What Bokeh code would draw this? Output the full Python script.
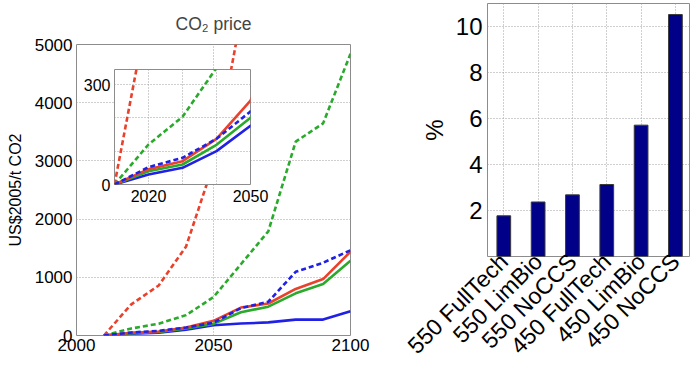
import math
from bokeh.plotting import figure
from bokeh.models import FixedTicker, GridBox, Row, Range1d
from bokeh.embed import file_html
from bokeh.resources import INLINE

# ---------------- data ----------------
years = [2010, 2020, 2030, 2040, 2050, 2060, 2070, 2080, 2090, 2100]
red_solid = [0, 46, 70, 137, 252, 480, 550, 800, 970, 1440]
green_solid = [0, 40, 60, 119, 200, 400, 495, 725, 885, 1285]
blue_solid = [0, 30, 50, 100, 176, 205, 225, 273, 273, 415]
blue_dashed = [0, 52, 80, 137, 219, 470, 580, 1095, 1250, 1465]
green_dashed = [0, 120, 203, 350, 660, 1224, 1790, 3330, 3645, 4840]
red_dashed_years = [2010, 2020, 2030, 2040, 2050, 2060]
red_dashed = [0, 535, 860, 1530, 2950, 5470]

main_x_ticks = [2000, 2050, 2100]
main_y_ticks = [0, 1000, 2000, 3000, 4000, 5000]
inset_x_ticks = [2020, 2030, 2040, 2050]
inset_x_labels = {2020: "2020", 2030: "", 2040: "", 2050: "2050"}
inset_y_ticks = [0, 100, 200, 300]
inset_y_labels = {0: "0", 100: "", 200: "", 300: "300"}

scenarios = ["550 FullTech", "550 LimBio", "550 NoCCS", "450 FullTech", "450 LimBio", "450 NoCCS"]
loss_pct = [1.77, 2.37, 2.68, 3.13, 5.71, 10.52]
bar_y_ticks = [2, 4, 6, 8, 10]

# ---------------- style ----------------
FONT = "Liberation Sans"
RED = "#e8412c"
GREEN = "#2aaa2a"
BLUE = "#2020e6"
FRAME = "#8c8c8c"
GRID = "#a0a0a0"
LW = 2.6
DASH = "5 3"

series = [
    (years, blue_solid, BLUE, "solid"),
    (years, green_solid, GREEN, "solid"),
    (years, red_solid, RED, "solid"),
    (years, green_dashed, GREEN, DASH),
    (red_dashed_years, red_dashed, RED, DASH),
    (years, blue_dashed, BLUE, DASH),
]


def style(p, font_size):
    p.outline_line_color = FRAME
    p.outline_line_width = 1
    p.background_fill_color = "white"
    for ax in p.axis:
        ax.axis_line_color = None
        ax.major_tick_in = 0
        ax.major_tick_out = 0
        ax.minor_tick_line_color = None
        ax.major_label_text_font = FONT
        ax.major_label_text_font_size = font_size
        ax.major_label_text_color = "black"
        ax.axis_label_text_font = FONT
        ax.axis_label_text_font_style = "normal"
        ax.axis_label_text_color = "black"
    for g in p.grid:
        g.grid_line_color = GRID
        g.grid_line_dash = "1 2"
        g.grid_line_width = 1


# ---------------- main line chart ----------------
main = figure(width=370, height=360, x_range=Range1d(2000, 2100), y_range=Range1d(0, 5000),
              output_backend="svg", toolbar_location=None,
              min_border_left=76, min_border_right=20, min_border_top=42, min_border_bottom=25)
main.title.text = "CO\u2082 price"
main.title.align = "center"
main.title.text_font = FONT
main.title.text_font_size = "17.5px"
main.title.text_font_style = "normal"
main.title.standoff = 22
for xs, ys, c, d in series:
    main.line(xs, ys, line_color=c, line_width=LW, line_dash=d)
style(main, "17px")
main.xaxis.ticker = FixedTicker(ticks=main_x_ticks)
main.yaxis.ticker = FixedTicker(ticks=main_y_ticks)
main.xaxis.major_label_standoff = 3
main.yaxis.major_label_standoff = 4
main.yaxis.axis_label = "US$2005/t CO2"
main.yaxis.axis_label_text_font_size = "16px"
main.yaxis.axis_label_standoff = 8

# ---------------- inset ----------------
inset = figure(width=190, height=141, x_range=Range1d(2010, 2050), y_range=Range1d(0, 345),
               output_backend="svg", toolbar_location=None,
               min_border_left=32, min_border_right=20, min_border_top=2, min_border_bottom=24)
inset.border_fill_alpha = 0
for xs, ys, c, d in series:
    inset.line(xs, ys, line_color=c, line_width=LW, line_dash=d)
style(inset, "16px")
inset.xaxis.ticker = FixedTicker(ticks=inset_x_ticks)
inset.xaxis.major_label_overrides = inset_x_labels
inset.yaxis.ticker = FixedTicker(ticks=inset_y_ticks)
inset.yaxis.major_label_overrides = inset_y_labels
inset.xaxis.major_label_standoff = 5
inset.yaxis.major_label_standoff = 4

left = GridBox(children=[(main, 0, 0, 3, 3), (inset, 1, 1, 1, 1)],
               rows=["67px", "141px", "152px"], cols=["80px", "190px", "100px"])

# ---------------- bar chart ----------------
positions = list(range(1, len(scenarios) + 1))
bars = figure(width=320, height=371, x_range=Range1d(0.525, 6.41), y_range=Range1d(0, 11.0),
              output_backend="svg", toolbar_location=None,
              min_border_left=117, min_border_right=1, min_border_top=3, min_border_bottom=115)
bars.vbar(x=positions, top=loss_pct, width=0.4, fill_color="#000088", line_color="#3a3a3a", line_width=1)
style(bars, "24px")
bars.xaxis.ticker = FixedTicker(ticks=positions)
bars.xaxis.major_label_overrides = {i: s for i, s in zip(positions, scenarios)}
bars.xaxis.major_label_orientation = math.pi / 4
bars.xaxis.major_label_text_font_size = "23px"
bars.xaxis.major_label_standoff = 1
bars.yaxis.ticker = FixedTicker(ticks=bar_y_ticks)
bars.yaxis.major_label_standoff = 5
bars.yaxis.axis_label = "%"
bars.yaxis.axis_label_text_font_size = "24px"
bars.yaxis.axis_label_standoff = 5

layout = Row(children=[left, bars])

open("out.html", "w").write(file_html(layout, INLINE))
